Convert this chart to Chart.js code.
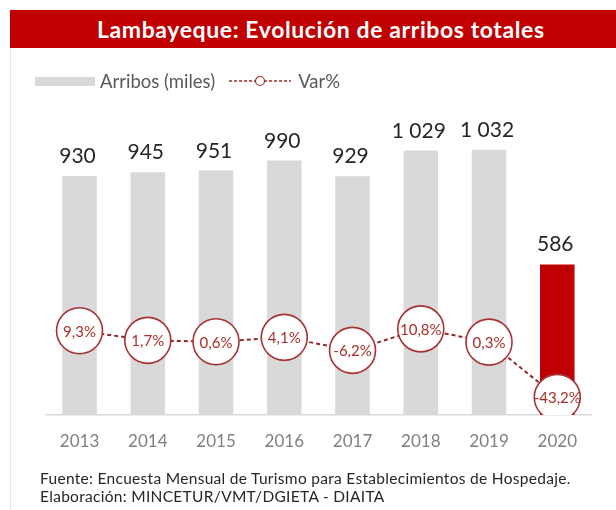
<!DOCTYPE html>
<html><head><meta charset="utf-8">
<script src="https://cdn.jsdelivr.net/npm/chart.js@4.4.1/dist/chart.umd.min.js"></script>
<style>
html,body{margin:0;padding:0;background:#fff;}
#wrap{position:relative;width:616px;height:510px;overflow:hidden;font-family:Lato,"Open Sans",sans-serif;}
#frame{position:absolute;left:10px;top:10px;width:1px;height:500px;background:#e4e4e4;}
#title{position:absolute;left:10px;top:10px;width:606px;height:38px;background:#C00000;color:#fff;font-weight:700;font-size:23px;letter-spacing:0.6px;line-height:38px;padding-left:87px;box-sizing:border-box;white-space:nowrap;}
#legend{position:absolute;left:35px;top:70px;height:22px;font-size:18.5px;color:#595959;display:flex;align-items:center;white-space:nowrap;}
#legend .box{display:inline-block;width:60px;height:9px;background:#D9D9D9;margin-right:5px;}
#legend svg{margin:0 7px 0 14px;}
#footer{position:absolute;left:40px;top:469px;font-size:15.5px;letter-spacing:0.3px;line-height:18px;color:#262626;white-space:nowrap;}
canvas{position:absolute;left:0;top:0;}
</style>
</head><body>
<div id="wrap">
<canvas id="c" width="616" height="510"></canvas>
<div id="frame"></div>
<div id="title">Lambayeque: Evolución de arribos totales</div>
<div id="legend"><span class="box"></span><span>Arribos (miles)</span><svg width="62" height="12" viewBox="0 0 62 12"><line x1="0" y1="6" x2="62" y2="6" stroke="#9B2D2D" stroke-width="1.5" stroke-dasharray="3,2"/><circle cx="31" cy="6" r="4.5" fill="#fff" stroke="#9B2D2D" stroke-width="1.2"/></svg><span>Var%</span></div>
<div id="footer">Fuente: Encuesta Mensual de Turismo para Establecimientos de Hospedaje.<br>Elaboración: MINCETUR/VMT/DGIETA - DIAITA</div>
</div>
<script>
const categories = ['2013','2014','2015','2016','2017','2018','2019','2020'];
const arribos = [930, 945, 951, 990, 929, 1029, 1032, 586];
const varPct = [9.3, 1.7, 0.6, 4.1, -6.2, 10.8, 0.3, -43.2];

const GREY = '#D9D9D9', RED = '#C00000';
function fmtThousands(n){ return n >= 1000 ? Math.floor(n/1000) + ' ' + String(n%1000).padStart(3,'0') : String(n); }
function fmtPct(v){ return v.toFixed(1).replace('.', ',') + '%'; }

const labelPlugin = {
  id: 'labels',
  afterDatasetsDraw(chart){
    const ctx = chart.ctx;
    ctx.save();
    ctx.textAlign = 'center';
    const barMeta = chart.getDatasetMeta(1);
    ctx.font = '21px Lato';
    ctx.fillStyle = '#262626';
    ctx.textBaseline = 'alphabetic';
    barMeta.data.forEach((el, i) => ctx.fillText(fmtThousands(arribos[i]), el.x - 2, el.y - 13));
    const lineMeta = chart.getDatasetMeta(0);
    ctx.font = '15px Lato';
    ctx.fillStyle = '#A8302A';
    ctx.textBaseline = 'middle';
    lineMeta.data.forEach((el, i) => ctx.fillText(fmtPct(varPct[i]), el.x, el.y + 1));
    ctx.restore();
  }
};

new Chart(document.getElementById('c'), {
  type: 'bar',
  data: {
    labels: categories,
    datasets: [
      {
        type: 'line', label: 'Var%', data: varPct, yAxisID: 'y1', order: 0,
        borderColor: '#8E2A2A', borderWidth: 2, borderDash: [4, 3], fill: false, tension: 0,
        pointRadius: 23, pointHoverRadius: 23, pointBackgroundColor: '#fff',
        pointBorderColor: '#A83236', pointBorderWidth: 1.6
      },
      {
        type: 'bar', label: 'Arribos (miles)', data: arribos, yAxisID: 'y', order: 1,
        backgroundColor: ctx => ctx.dataIndex === arribos.length - 1 ? RED : GREY,
        barPercentage: 1, categoryPercentage: 0.506
      }
    ]
  },
  options: {
    responsive: false, animation: false, devicePixelRatio: 1,
    layout: { padding: { left: 45.4, right: 17.4, top: 106.6, bottom: 55 } },
    plugins: { legend: { display: false }, tooltip: { enabled: false }, title: { display: false } },
    scales: {
      x: {
        grid: { display: false, drawTicks: false },
        border: { display: true, color: '#D9D9D9', width: 1.5 },
        ticks: { font: { family: 'Lato', size: 17 }, color: '#808080', padding: 16 },
        afterFit: s => { s.height = 40; }
      },
      y: { display: false, min: 0, max: 1200 },
      y1: { display: false, min: -57.1, max: 185.9 }
    }
  },
  plugins: [labelPlugin]
});
</script>
</body></html>
